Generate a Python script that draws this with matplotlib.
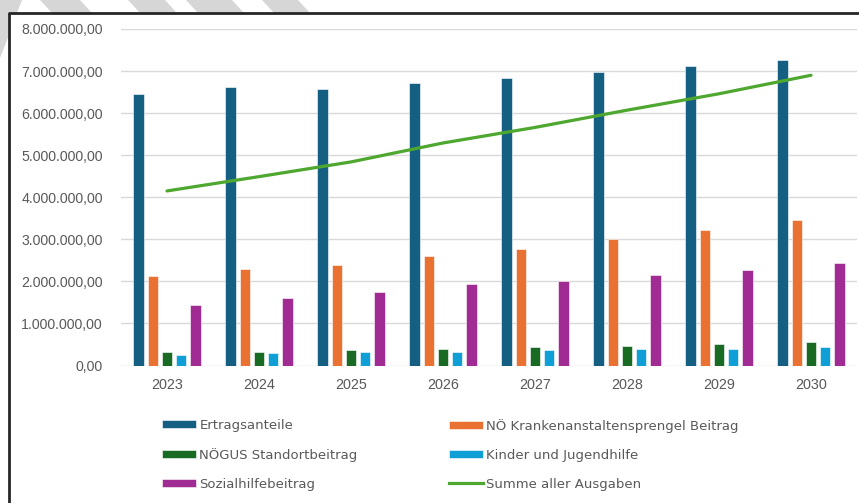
import numpy as np
import matplotlib.pyplot as plt
from matplotlib.patches import Polygon
from matplotlib.lines import Line2D

years = ['2023', '2024', '2025', '2026', '2027', '2028', '2029', '2030']

ertragsanteile = [6.46, 6.62, 6.58, 6.71, 6.84, 6.97, 7.13, 7.26]
krankenanstalten = [2.12, 2.29, 2.40, 2.60, 2.77, 3.00, 3.23, 3.45]
noegus = [0.33, 0.33, 0.37, 0.40, 0.44, 0.47, 0.50, 0.56]
jugendhilfe = [0.26, 0.30, 0.32, 0.33, 0.37, 0.40, 0.40, 0.44]
sozialhilfe = [1.43, 1.60, 1.74, 1.93, 2.02, 2.15, 2.28, 2.44]
summe = [4.15, 4.49, 4.84, 5.29, 5.66, 6.07, 6.46, 6.90]

bar_series = [
    ('Ertragsanteile', ertragsanteile, '#156082'),
    ('NÖ Krankenanstaltensprengel Beitrag', krankenanstalten, '#E97132'),
    ('NÖGUS Standortbeitrag', noegus, '#196B24'),
    ('Kinder und Jugendhilfe', jugendhilfe, '#0F9ED5'),
    ('Sozialhilfebeitrag', sozialhilfe, '#A02B93'),
]
line_label = 'Summe aller Ausgaben'
line_color = '#4EA72E'
text_color = '#595959'

W, H = 859, 503


def px(x, y):
    # pixel (y down) -> figure fraction
    return (x / W, 1 - y / H)


def de_format(v, pos=None):
    s = f'{v:,.2f}'
    return s.replace(',', 'X').replace('.', ',').replace('X', '.')


plt.rcParams['font.family'] = ['Liberation Sans', 'DejaVu Sans']

fig = plt.figure(figsize=(W / 100, H / 100), dpi=100)

# faint watermark stripes, only outside the chart frame
stripes = [
    [(0, 0), (22, 0), (17, 13), (9, 13), (9, 35), (0, 58)],
    [(40, 0), (80, 0), (92, 13), (52, 13)],
    [(128, 0), (165, 0), (177, 13), (140, 13)],
    [(186, 0), (232, 0), (244, 13), (198, 13)],
    [(262, 0), (298, 0), (310, 13), (274, 13)],
]
for pts in stripes:
    fig.patches.append(Polygon([px(*p) for p in pts], closed=True,
                               transform=fig.transFigure, facecolor='#d6d6d6',
                               edgecolor='none'))

# chart frame (top and left edges)
fig.add_artist(Line2D([px(9, 0)[0], px(9, 0)[0], 1.0],
                      [0.0, px(0, 13)[1], px(0, 13)[1]],
                      transform=fig.transFigure, color='#262626', lw=2))

left, bottom = px(121, 365.5)
right, top = px(857, 29)
ax = fig.add_axes([left, bottom, right - left, top - bottom])
ax.set_facecolor('none')

x = np.arange(len(years))
step = 0.154
width = 0.114
handles = []
for i, (name, vals, col) in enumerate(bar_series):
    b = ax.bar(x + (i - 2) * step, np.array(vals) * 1e6, width, color=col,
               edgecolor='white', linewidth=0.4, label=name, zorder=3)
    handles.append(b)

ln, = ax.plot(x, np.array(summe) * 1e6, color=line_color, lw=2.3,
              solid_capstyle='round', zorder=4, label=line_label)

ax.set_xlim(-0.5, len(years) - 0.5)
ax.set_ylim(0, 8e6)
ax.set_yticks(np.arange(0, 8.01e6, 1e6))
ax.yaxis.set_major_formatter(plt.FuncFormatter(de_format))
ax.set_xticks(x)
ax.set_xticklabels(years)
ax.grid(axis='y', color='#d9d9d9', lw=1, zorder=0)
ax.set_axisbelow(True)
for s in ax.spines.values():
    s.set_visible(False)
ax.tick_params(length=0, colors=text_color)
ax.tick_params(axis='y', pad=13, labelsize=10.2)
ax.tick_params(axis='x', pad=9, labelsize=10.4)

leg_font = {'family': ['DejaVu Sans'], 'size': 9.5}
line_handle = Line2D([], [], color=line_color, lw=2.3)

common = dict(loc='upper left', frameon=False, prop=leg_font, labelcolor=text_color,
              handlelength=2.6, handleheight=0.6, handletextpad=0.25, labelspacing=1.2)
fig.legend([handles[0], handles[2], handles[4]],
           [bar_series[0][0], bar_series[2][0], bar_series[4][0]],
           bbox_to_anchor=px(150, 407), **common)
fig.legend([handles[1], handles[3], line_handle],
           [bar_series[1][0], bar_series[3][0], line_label],
           bbox_to_anchor=px(437, 407), **common)

fig.savefig('out.png', dpi=100)
